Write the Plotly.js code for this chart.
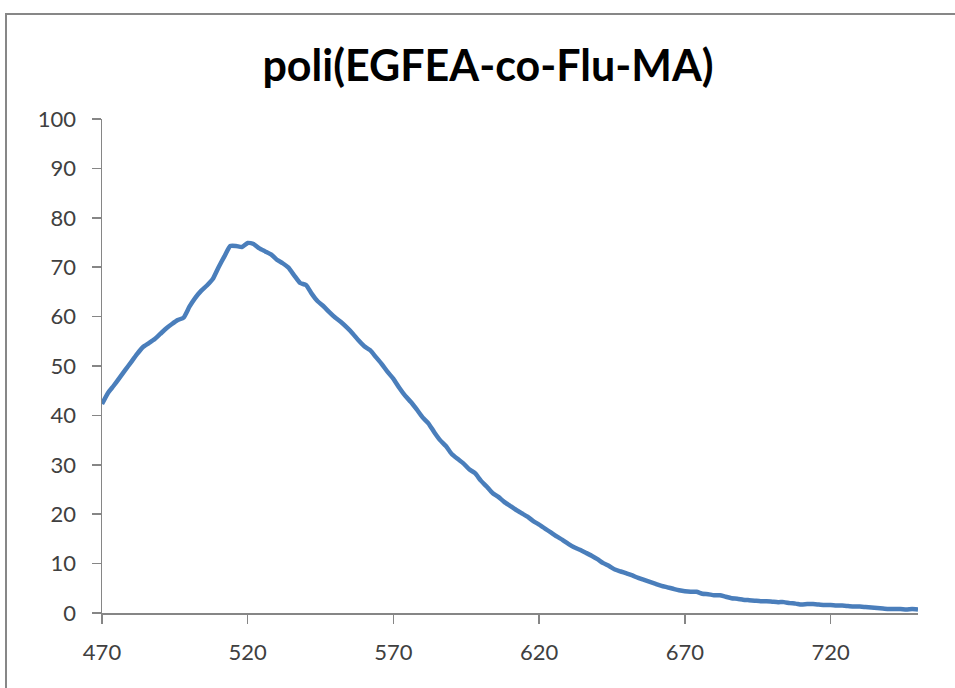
<!DOCTYPE html>
<html>
<head>
<meta charset="utf-8">
<script src="https://cdn.plot.ly/plotly-3.0.1.min.js"></script>
<style>
  html, body { margin: 0; padding: 0; background: #ffffff; overflow: hidden; }
  #chart { position: absolute; left: 0; top: 0; width: 955px; height: 688px; }
  #frame { position: absolute; left: 5px; top: 13px; width: 980px; height: 720px;
           border: 2px solid #878787; pointer-events: none; }
</style>
</head>
<body>
<div id="chart"></div>
<div id="frame"></div>
<script>
// Emission spectrum of poli(EGFEA-co-Flu-MA): wavelength (nm) vs intensity
const wavelength = [
  470, 472, 474, 476, 478, 480, 482, 484, 486, 488,
  490, 492, 494, 496, 498, 500, 502, 504, 506, 508,
  510, 512, 514, 516, 518, 520, 522, 524, 526, 528,
  530, 532, 534, 536, 538, 540, 542, 544, 546, 548,
  550, 552, 554, 556, 558, 560, 562, 564, 566, 568,
  570, 572, 574, 576, 578, 580, 582, 584, 586, 588,
  590, 592, 594, 596, 598, 600, 602, 604, 606, 608,
  610, 612, 614, 616, 618, 620, 622, 624, 626, 628,
  630, 632, 634, 636, 638, 640, 642, 644, 646, 648,
  650, 652, 654, 656, 658, 660, 662, 664, 666, 668,
  670, 672, 674, 676, 678, 680, 682, 684, 686, 688,
  690, 692, 694, 696, 698, 700, 702, 704, 706, 708,
  710, 712, 714, 716, 718, 720, 722, 724, 726, 728,
  730, 732, 734, 736, 738, 740, 742, 744, 746, 748,
  750
];
const intensity = [
  42.3, 44.5, 46.0, 47.6, 49.2, 50.8, 52.4, 53.8, 54.6, 55.4,
  56.5, 57.6, 58.5, 59.3, 59.8, 62.0, 63.8, 65.2, 66.3, 67.6,
  70.0, 72.2, 74.3, 74.3, 74.1, 74.9, 74.7, 73.8, 73.2, 72.6,
  71.5, 70.8, 69.9, 68.3, 66.8, 66.4, 64.6, 63.1, 62.1, 60.9,
  59.8, 58.9, 57.8, 56.6, 55.2, 54.0, 53.2, 51.8, 50.4, 48.8,
  47.4, 45.6, 44.0, 42.7, 41.2, 39.6, 38.4, 36.6, 35.0, 33.8,
  32.2, 31.2, 30.3, 29.1, 28.3, 26.8, 25.6, 24.3, 23.5, 22.5,
  21.7, 20.9, 20.2, 19.5, 18.6, 17.9, 17.1, 16.3, 15.5, 14.8,
  14.0, 13.3, 12.8, 12.2, 11.6, 10.9, 10.1, 9.5, 8.8, 8.4,
  8.0, 7.6, 7.1, 6.7, 6.3, 5.9, 5.5, 5.2, 4.9, 4.6,
  4.4, 4.3, 4.3, 3.9, 3.8, 3.6, 3.6, 3.3, 3.0, 2.9,
  2.7, 2.6, 2.5, 2.4, 2.4, 2.3, 2.2, 2.2, 2.0, 1.9,
  1.7, 1.8, 1.8, 1.7, 1.6, 1.6, 1.5, 1.5, 1.4, 1.3,
  1.3, 1.2, 1.1, 1.0, 0.9, 0.8, 0.8, 0.8, 0.7, 0.8,
  0.7
];
const chartTitle = 'poli(EGFEA-co-Flu-MA)';
const xTicks = [470, 520, 570, 620, 670, 720];
const yTicks = [0, 10, 20, 30, 40, 50, 60, 70, 80, 90, 100];

const tickFont = { family: 'Lato, "Open Sans", sans-serif', size: 22, color: '#404040' };

const trace = {
  x: wavelength,
  y: intensity,
  type: 'scatter',
  mode: 'lines',
  line: { color: '#4a7ebb', width: 4.5, shape: 'spline', smoothing: 0.5 },
  hoverinfo: 'x+y'
};

const layout = {
  width: 955,
  height: 688,
  margin: { l: 102, r: 37, t: 119, b: 75 },
  paper_bgcolor: '#ffffff',
  plot_bgcolor: '#ffffff',
  showlegend: false,
  title: {
    text: '<b>' + chartTitle + '</b>',
    font: { family: 'Lato, "Open Sans", sans-serif', size: 43, color: '#000000' },
    xref: 'container', yref: 'container',
    x: 488 / 955, xanchor: 'center',
    y: 1 - 66 / 688, yanchor: 'middle'
  },
  xaxis: {
    range: [470, 750],
    tickmode: 'array',
    tickvals: xTicks,
    ticktext: xTicks.map(String),
    ticks: 'outside', ticklen: 9, tickwidth: 1.5, tickcolor: '#868686',
    showline: true, linecolor: '#868686', linewidth: 1.5,
    showgrid: false, zeroline: false,
    tickfont: tickFont,
    ticklabelstandoff: 10
  },
  yaxis: {
    range: [0, 100],
    tickmode: 'array',
    tickvals: yTicks,
    ticktext: yTicks.map(String),
    ticks: 'outside', ticklen: 9, tickwidth: 1.5, tickcolor: '#868686',
    showline: true, linecolor: '#868686', linewidth: 1.5,
    showgrid: false, zeroline: false,
    tickfont: tickFont,
    ticklabelstandoff: 11
  }
};

Plotly.newPlot('chart', [trace], layout, { displayModeBar: false, staticPlot: true });
</script>
</body>
</html>
